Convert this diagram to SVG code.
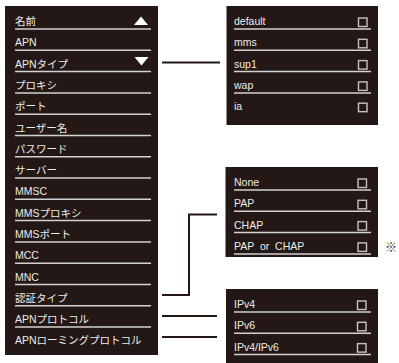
<svg xmlns="http://www.w3.org/2000/svg" width="399" height="363" viewBox="0 0 399 363">
<style>
.panel{fill:#231815}
.t{font-family:"Liberation Sans","Noto Sans CJK JP",sans-serif;font-size:10.5px;fill:#ececec}
.sep{stroke:#d2d2d2;stroke-width:1.5}
.cb{fill:none;stroke:#c4c4c4;stroke-width:1.4}
.con{fill:none;stroke:#231815;stroke-width:2}
.tri{fill:#ffffff}
</style>
<rect width="399" height="363" fill="#ffffff"/>
<g id="settings-list">
<rect class="panel" x="5" y="6" width="153" height="349"/>
<g class="sep">
<line x1="15" y1="29" x2="151" y2="29"/>
<line x1="15" y1="50.3" x2="151" y2="50.3"/>
<line x1="15" y1="71.6" x2="151" y2="71.6"/>
<line x1="15" y1="92.9" x2="151" y2="92.9"/>
<line x1="15" y1="114.2" x2="151" y2="114.2"/>
<line x1="15" y1="135.5" x2="151" y2="135.5"/>
<line x1="15" y1="156.7" x2="151" y2="156.7"/>
<line x1="15" y1="178" x2="151" y2="178"/>
<line x1="15" y1="199.3" x2="151" y2="199.3"/>
<line x1="15" y1="220.6" x2="151" y2="220.6"/>
<line x1="15" y1="241.9" x2="151" y2="241.9"/>
<line x1="15" y1="263.2" x2="151" y2="263.2"/>
<line x1="15" y1="284.5" x2="151" y2="284.5"/>
<line x1="15" y1="305.8" x2="151" y2="305.8"/>
<line x1="15" y1="327.1" x2="151" y2="327.1"/>
</g>
<text class="t" x="15" y="25">名前</text>
<text class="t" x="15" y="46.3">APN</text>
<text class="t" x="15" y="67.6">APNタイプ</text>
<text class="t" x="15" y="88.9">プロキシ</text>
<text class="t" x="15" y="110.2">ポート</text>
<text class="t" x="15" y="131.5">ユーザー名</text>
<text class="t" x="15" y="152.7">パスワード</text>
<text class="t" x="15" y="174">サーバー</text>
<text class="t" x="15" y="195.3">MMSC</text>
<text class="t" x="15" y="216.6">MMSプロキシ</text>
<text class="t" x="15" y="237.9">MMSポート</text>
<text class="t" x="15" y="259.2">MCC</text>
<text class="t" x="15" y="280.5">MNC</text>
<text class="t" x="15" y="301.8">認証タイプ</text>
<text class="t" x="15" y="323.1">APNプロトコル</text>
<text class="t" x="15" y="344.4">APNローミングプロトコル</text>
<polygon class="tri" points="134,25 148,25 141,16.5"/>
<polygon class="tri" points="134.5,57 148.5,57 141.5,65.5"/>
</g>
<g id="apn-type-options">
<rect class="panel" x="226.5" y="6" width="151.5" height="119"/>
<g class="sep">
<line x1="234" y1="29" x2="371" y2="29"/>
<line x1="234" y1="50.3" x2="371" y2="50.3"/>
<line x1="234" y1="71.6" x2="371" y2="71.6"/>
<line x1="234" y1="92.9" x2="371" y2="92.9"/>
</g>
<text class="t" x="234" y="25">default</text>
<text class="t" x="234" y="46.3">mms</text>
<text class="t" x="234" y="67.6">sup1</text>
<text class="t" x="234" y="88.9">wap</text>
<text class="t" x="234" y="110.2">ia</text>
<rect class="cb" x="358.5" y="18" width="8.5" height="8.5"/>
<rect class="cb" x="358.5" y="39.3" width="8.5" height="8.5"/>
<rect class="cb" x="358.5" y="60.6" width="8.5" height="8.5"/>
<rect class="cb" x="358.5" y="81.9" width="8.5" height="8.5"/>
<rect class="cb" x="358.5" y="103.2" width="8.5" height="8.5"/>
</g>
<g id="auth-type-options">
<rect class="panel" x="225.5" y="167" width="152.5" height="90"/>
<g class="sep">
<line x1="234" y1="190" x2="371" y2="190"/>
<line x1="234" y1="211.3" x2="371" y2="211.3"/>
<line x1="234" y1="232.6" x2="371" y2="232.6"/>
<line x1="234" y1="253.9" x2="371" y2="253.9"/>
</g>
<text class="t" x="234" y="186">None</text>
<text class="t" x="234" y="207.3">PAP</text>
<text class="t" x="234" y="228.6">CHAP</text>
<text class="t" x="234" y="249.9" xml:space="preserve">PAP  or  CHAP</text>
<rect class="cb" x="358" y="179" width="8.5" height="8.5"/>
<rect class="cb" x="358" y="200.3" width="8.5" height="8.5"/>
<rect class="cb" x="358" y="221.6" width="8.5" height="8.5"/>
<rect class="cb" x="358" y="242.9" width="8.5" height="8.5"/>
<text x="385" y="251.5" style="font-family:'Noto Sans CJK JP',sans-serif;font-size:12px;fill:#333">※</text>
</g>
<g id="apn-protocol-options">
<rect class="panel" x="226" y="289" width="152" height="74"/>
<g class="sep">
<line x1="234" y1="312" x2="371" y2="312"/>
<line x1="234" y1="333.3" x2="371" y2="333.3"/>
<line x1="234" y1="354.6" x2="371" y2="354.6"/>
</g>
<text class="t" x="234" y="308">IPv4</text>
<text class="t" x="234" y="329.3">IPv6</text>
<text class="t" x="234" y="350.6">IPv4/IPv6</text>
<rect class="cb" x="357.5" y="301" width="8.5" height="8.5"/>
<rect class="cb" x="357.5" y="322.3" width="8.5" height="8.5"/>
<rect class="cb" x="357.5" y="343.6" width="8.5" height="8.5"/>
</g>
<g id="connectors">
<path class="con" d="M162 62.5 H220"/>
<path class="con" d="M162 295 H189 V214.5 H217"/>
<path class="con" d="M162 316 H217"/>
<path class="con" d="M162 337 H217"/>
</g>
</svg>
